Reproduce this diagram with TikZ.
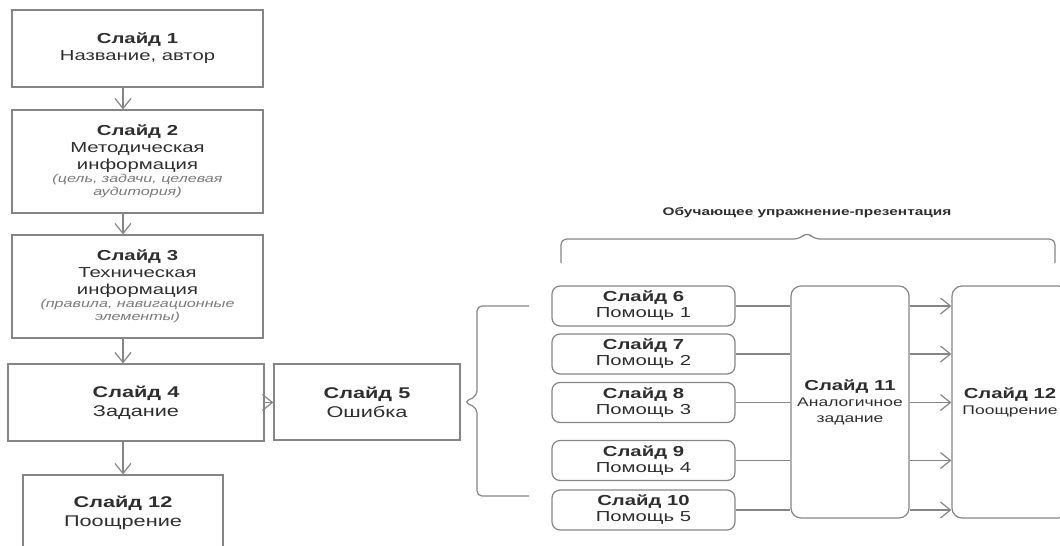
\documentclass[tikz,border=0pt]{standalone}
\usepackage{fontspec}
\setmainfont{Liberation Sans}[FakeStretch=1.4]
\usetikzlibrary{arrows.meta}
\definecolor{linegray}{HTML}{858585}
\definecolor{textgray}{HTML}{2E2E2E}
\definecolor{notegray}{HTML}{7A7A7A}
\newcommand{\notetext}[1]{{\fontsize{11.5}{12}\selectfont\itshape\color{notegray}#1}}
\newcommand{\subtext}[1]{{\fontsize{12.5}{16}\selectfont #1}}
\begin{document}
\begin{tikzpicture}[x=1pt, y=-1pt, line width=1.2pt, color=linegray,
        >={Straight Barb[length=10pt,width=16pt,line width=1.2pt]},
        slide/.style = {draw, rectangle, align=center, inner sep=0pt, text=textgray,
            font=\fontsize{14.5}{17}\selectfont},
        leftslide/.style = {slide, minimum width=251pt},
        bigslide/.style = {slide, font=\fontsize{15.5}{19}\selectfont},
        helpbox/.style = {slide, rounded corners=8pt, minimum width=183pt, minimum height=40pt,
            font=\fontsize{14.5}{16}\selectfont},
        tallbox/.style = {slide, rounded corners=10pt, minimum height=232pt,
            font=\fontsize{14.5}{16}\selectfont}]
    \useasboundingbox (0,0) rectangle (1060,546);
    \clip (0,0) rectangle (1060,546);
    % left column
    \node[leftslide, minimum height=77pt] (s1) at (137.5,48.5) {\textbf{Слайд 1}\\Название, автор};
    \node[leftslide, minimum height=103pt] (s2) at (137.5,161.5) {\textbf{Слайд 2}\\Методическая\\информация\\[-4pt]\notetext{(цель, задачи, целевая}\\[-4pt]\notetext{аудитория)}};
    \node[leftslide, minimum height=103pt] (s3) at (137.5,286.5) {\textbf{Слайд 3}\\Техническая\\информация\\[-4pt]\notetext{(правила, навигационные}\\[-4pt]\notetext{элементы)}};
    \node[bigslide, minimum width=256pt, minimum height=77pt] (s4) at (136,402.5) {\textbf{Слайд 4}\\Задание};
    \node[bigslide, minimum width=200pt, minimum height=75pt] (s12a) at (123,512.5) {\textbf{Слайд 12}\\Поощрение};
    \node[bigslide, minimum width=186pt, minimum height=76pt] (s5) at (367,402) {\textbf{Слайд 5}\\Ошибка};
    % help slides
    \node[helpbox] (h6) at (643.5,306) {\textbf{Слайд 6}\\Помощь 1};
    \node[helpbox] (h7) at (643.5,354) {\textbf{Слайд 7}\\Помощь 2};
    \node[helpbox] (h8) at (643.5,402.5) {\textbf{Слайд 8}\\Помощь 3};
    \node[helpbox] (h9) at (643.5,460.5) {\textbf{Слайд 9}\\Помощь 4};
    \node[helpbox] (h10) at (643.5,510) {\textbf{Слайд 10}\\Помощь 5};
    \node[tallbox, minimum width=118pt] (s11) at (850,402) {\textbf{Слайд 11}\\\subtext{Аналогичное}\\\subtext{задание}};
    \node[tallbox, minimum width=116pt] (s12b) at (1010,402) {\textbf{Слайд 12}\\\subtext{Поощрение}};
    \node[text=textgray, font=\fontsize{11}{13}\selectfont\bfseries] (lbl) at (807,213) {Обучающее упражнение-презентация};
    % connectors
    \draw[->] (s1.south -| s12a) -- (s2.north -| s12a);
    \draw[->] (s2.south -| s12a) -- (s3.north -| s12a);
    \draw[->] (s3.south -| s12a) -- (s4.north -| s12a);
    \draw[->] (s4.south -| s12a) -- (s12a.north);
    \draw[->] (s4.east) -- (s4.east -| s5.west);
    \draw (h6.east) -- (h6.east -| s11.west);
    \draw (h7.east) -- (h7.east -| s11.west);
    \draw (h8.east) -- (h8.east -| s11.west);
    \draw (h9.east) -- (h9.east -| s11.west);
    \draw (h10.east) -- (h10.east -| s11.west);
    \draw[->] (s11.east |- h6) -- (s12b.west |- h6);
    \draw[->] (s11.east |- h7) -- (s12b.west |- h7);
    \draw[->] (s11.east |- h8) -- (s12b.west |- h8);
    \draw[->] (s11.east |- h9) -- (s12b.west |- h9);
    \draw[->] (s11.east |- h10) -- (s12b.west |- h10);
    % braces
    \draw[rounded corners=5pt] (529,306) -- (477,306) -- (477,396) -- (464,402) -- (477,408) -- (477,496) -- (529,496);
    \draw[rounded corners=6pt] (561,263) -- (561,239) -- (800,239) -- (807,232) -- (814,239) -- (1055,239) -- (1055,263);
\end{tikzpicture}
\end{document}
